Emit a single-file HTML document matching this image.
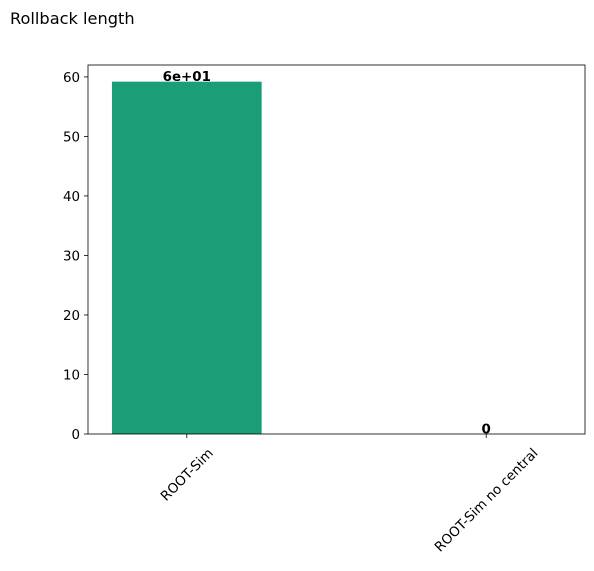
<!DOCTYPE html>
<html><head><meta charset="utf-8"><style>
body{margin:0;background:#fff;}
svg text{font-family:"DejaVu Sans","Liberation Sans",sans-serif;}
</style></head><body>
<svg id="chart" width="594" height="566" xmlns="http://www.w3.org/2000/svg">
<text x="10" y="24" font-size="16.2" fill="#000">Rollback length</text>
<g id="plot"></g>
</svg>
<script>
const categories = ["ROOT-Sim", "ROOT-Sim no central"];
const values = [59.2, 0];
const valueLabels = ["6e+01", "0"];
const yTicks = [0, 10, 20, 30, 40, 50, 60];

const L = 88, R = 585, T = 65, B = 434;
const xMin = -0.33, xMax = 1.33, yMin = 0, yMax = 62.0;
const FS = 13.4;
const xs = v => L + (v - xMin) / (xMax - xMin) * (R - L);
const ys = v => B - (v - yMin) / (yMax - yMin) * (B - T);
const NS = "http://www.w3.org/2000/svg";
const g = document.getElementById("plot");
function mk(tag, attrs, text) {
  const e = document.createElementNS(NS, tag);
  for (const k in attrs) e.setAttribute(k, attrs[k]);
  if (text !== undefined) e.textContent = text;
  g.appendChild(e);
  return e;
}
const bw = 0.5;
categories.forEach((c, i) => {
  const x0 = xs(i - bw / 2), x1 = xs(i + bw / 2);
  const y0 = ys(values[i]);
  const bar = mk("rect", {x: x0, y: y0, width: x1 - x0, height: B - y0, fill: "#1b9e77"});
  
  
  const lbl = mk("text", {x: xs(i), y: y0 - 0.5, "font-size": FS, "font-weight": "bold", "text-anchor": "middle"}, valueLabels[i]);
  
  
  const tk = mk("line", {x1: xs(i), x2: xs(i), y1: B, y2: B + 4, stroke: "#000", "stroke-width": 0.8});
  
  
  const xl = mk("text", {x: 0, y: 4.5, "font-size": FS, "text-anchor": "middle"}, c);
  
  
  const w = xl.getComputedTextLength();
  const cy = B + 12 + (w + FS) * 0.7071 / 2;
  xl.setAttribute("transform", `translate(${xs(i)} ${cy}) rotate(-45)`);
});
yTicks.forEach(t => {
  const y = ys(t);
  const tk = mk("line", {x1: L - 4, x2: L, y1: y, y2: y, stroke: "#000", "stroke-width": 0.8});
  
  
  const yl = mk("text", {x: L - 8, y: y + 5, "font-size": FS, "text-anchor": "end"}, String(t));
  
  
});
const frame = mk("rect", {x: L, y: T, width: R - L, height: B - T, fill: "none", stroke: "#000", "stroke-width": 0.8});


</script>
</body></html>
